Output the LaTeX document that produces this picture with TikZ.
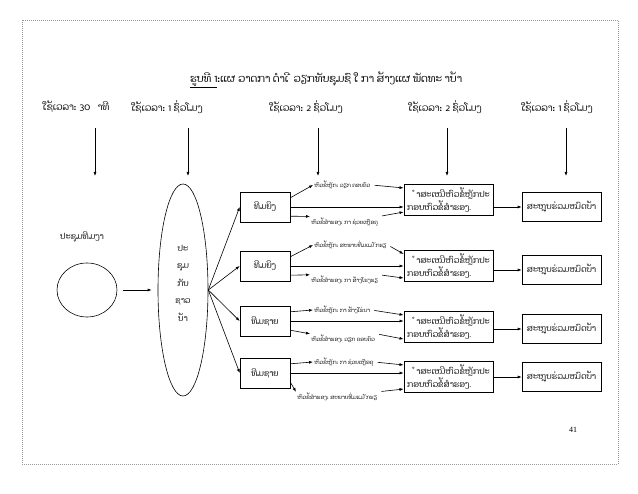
\documentclass[tikz,border=0pt]{standalone}
\usepackage{fontspec}
\setmainfont{Liberation Serif}
\newfontfamily\laofont[Script=Lao]{Dhyana}
\usetikzlibrary{arrows.meta,shapes.geometric}
\def\laotext{\laofont\fontsize{8.3}{10}\selectfont}
\def\laotime{\laofont\fontsize{9.5}{11}\selectfont}
\def\laosmall{\laofont\fontsize{5.5}{6.5}\selectfont}

\tikzset{
  arr/.style={-{Latex[length=4pt,width=3pt]}},
  teambox/.style={draw, minimum width=50pt, minimum height=30pt, font=\laotext},
  sumbox/.style={draw, minimum width=87pt, minimum height=31pt, align=left, font=\laotext},
  endbox/.style={draw, minimum width=79pt, minimum height=29pt, font=\laotext},
  topic/.style={inner sep=1pt, anchor=west, font=\laosmall},
}

\begin{document}
\begin{tikzpicture}[x=1pt,y=-1pt,line width=0.6pt]
\useasboundingbox (0,0) rectangle (638,494);
\draw[gray!80, line width=0.4pt, dash pattern=on 1pt off 1pt] (22,20) rectangle (618,464);

\node[font=\laofont\fontsize{10.5}{12}\selectfont] (title) at (326,80) {\underline{ຮູບທີ 1}:ແຜ ວາດກາ ດຳເ ີ ວຽກທັບຊຸມຊົ ໃ ກາ ສ້າງແຜ ພັດທະ າບ້າ};

% time and arrows down
\foreach \x/\ax/\t [count=\i] in {76/95/{30\ \ \ າທີ}, 167/188/{1 ຊົ່ວໂມງ}, 306/318/{2 ຊົ່ວໂມງ}, 445/447/{2 ຊົ່ວໂມງ}, 557/566/{1 ຊົ່ວໂມງ}} {
  \node[font=\laotime] (time\i) at (\x,107) {ໃຊ້ເວລາ: \t};
  \coordinate (up\i) at (\ax,128);
  \coordinate (dn\i) at (\ax,176);
  \draw[arr] (up\i) -- (dn\i);
}

\node[font=\laotext] (teamlabel) at (82,237) {ປະຊຸມທີມງາ};
\node[draw, ellipse, minimum width=60pt, minimum height=54pt] (meet) at (87,290) {};

\node[draw, ellipse, inner sep=0pt, minimum width=50pt, minimum height=212pt] (village) at (183,290) {};
\node[align=center, font=\laofont\fontsize{8.3}{17.5}\selectfont] (villagetext) at (183,283) {ປະ\\ຊຸມ\\ກັບ\\ຊາວ\\ບ້າ};
\draw[arr, shorten <=6pt, shorten >=6pt] (meet) -- (village);

% teams
\foreach \y/\r/\s/\name [count=\i] in {207/200/207/ທີມຍິງ, 266/266/270/ທີມຍິງ, 321/327/329/ທີມຊາຍ, 373/377/377/ທີມຊາຍ} {
  \node[teambox] (team\i) at (265,\y) {\name};
  \node[sumbox] (pres\i) at (448.5,\r) {\hspace*{9pt}ຳສະເໜີຫົວຂໍ້ຫຼັກປະ\\ກອບຫົວຂໍ້ສຳຮອງ.};
  \node[endbox] (sum\i) at (561.5,\s) {ສະຫຼຸບຮ່ວມໝົດບ້າ};
  \draw[arr] (village.east) -- (team\i.west);
  \draw[arr] (team\i.east) -- (team\i.east -| pres\i.west);
  \draw[arr] (sum\i.west -| pres\i.east) -- (sum\i.west);
}

% topics
\foreach \i/\yt/\yb/\tt/\tb in {
  1/185/222/{ວຽກ ຄອບຄົວ}/{ກາ ຊ່ວຍເຫຼືອຄຸ},
  2/245/280/{ສະພາບທີ່ມແມ່ ັກຮຽ}/{ກາ ສ້າງໂຮງຮຽ},
  3/310/339/{ກາ ສ້າງໄຮ່ນາ}/{ວຽກ ຄອບຄົວ},
  4/362/397/{ກາ ຊ່ວຍເຫຼືອຄຸ}/{ສະພາບທີ່ມແມ່ ັກຮຽ}} {
  \node[topic] (main\i) at (313,\yt) {ຫົວຂໍ້ຫຼັກ: \tt};
  \node[topic] (spare\i) at (\ifnum\i=4 296\else 310\fi,\yb) {ຫົວຂໍ້ສຳຮອງ: \tb};
  \draw[arr] (team\i.20) -- (main\i.west);
  \draw[arr] (team\i.-20) -- (spare\i.north west);
  \draw[arr, shorten <=3pt] (main\i.east) -- (pres\i.165);
  \draw[arr, shorten <=3pt] (spare\i.north east) -- (pres\i.195);
}

\node[font=\fontsize{8}{9}\selectfont] (page) at (573,430) {41};
\end{tikzpicture}
\end{document}
